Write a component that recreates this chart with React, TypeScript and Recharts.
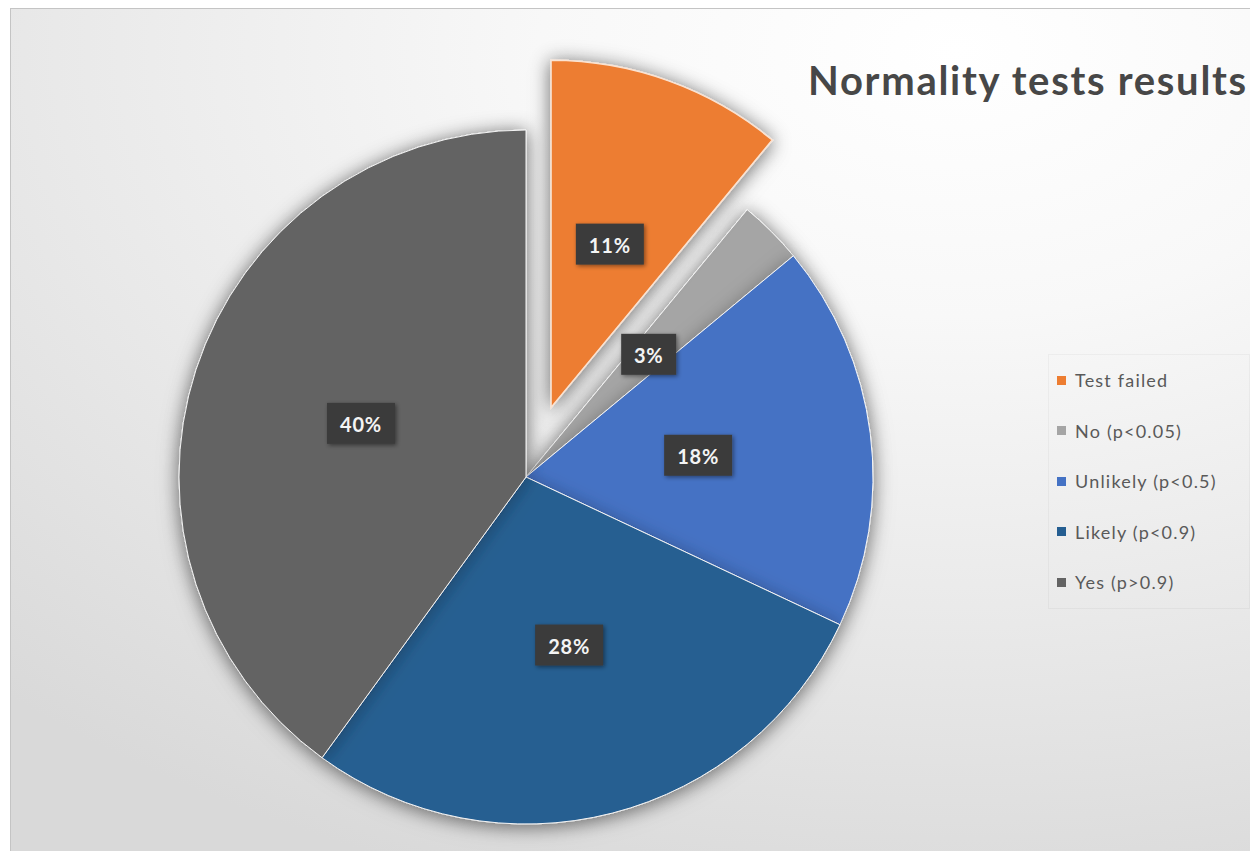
import { PieChart, Pie, Cell, Legend } from "recharts";

const CATEGORIES = ["Test failed", "No (p<0.05)", "Unlikely (p<0.5)", "Likely (p<0.9)", "Yes (p>0.9)"];
const SHARES = [11, 3, 18, 28, 40];
const COLORS = ["#ED7D31", "#A5A5A5", "#4472C4", "#255E91", "#636363"];
const EXPLODED = 0;

const data = CATEGORIES.map((name, i) => ({ name, value: SHARES[i] }));

const RADIAN = Math.PI / 180;
const CX = 526;
const CY = 477;
const RADIUS = 347;
const EXPLODE_DIST = 74;

// pull the exploded slice out along its own mid angle
const total = SHARES.reduce((s, v) => s + v, 0);
const before = SHARES.slice(0, EXPLODED).reduce((s, v) => s + v, 0);
const explodedMid = 90 - ((before + SHARES[EXPLODED] / 2) / total) * 360;
const EX_CX = CX + EXPLODE_DIST * Math.cos(explodedMid * RADIAN);
const EX_CY = CY - EXPLODE_DIST * Math.sin(explodedMid * RADIAN);

const FONT = "Lato, 'Open Sans', sans-serif";

const makeLabel = (exploded: boolean) => (props: any) => {
  const { cx, cy, midAngle, outerRadius, index } = props;
  if ((index === EXPLODED) !== exploded) return <g />;
  const r = outerRadius * 0.5;
  const x = cx + r * Math.cos(-midAngle * RADIAN);
  const y = cy + r * Math.sin(-midAngle * RADIAN);
  const text = `${SHARES[index]}%`;
  const w = 28 + 13 * String(SHARES[index]).length + 14;
  const h = 41;
  return (
    <g>
      <rect x={x - w / 2} y={y - h / 2} width={w} height={h} fill="#3b3b3b" filter="url(#labelShadow)" />
      <text
        x={x}
        y={y + 1}
        textAnchor="middle"
        dominantBaseline="central"
        fill="#f4f4f4"
        fontFamily={FONT}
        fontWeight={700}
        fontSize={20}
        letterSpacing={0.8}
      >
        {text}
      </text>
    </g>
  );
};

const renderLegend = () => (
  <div style={{ fontFamily: FONT, fontSize: 18, letterSpacing: 1.2, color: "#595959" }}>
    {CATEGORIES.map((name, i) => (
      <div key={name} style={{ display: "flex", alignItems: "center", height: 50.5 }}>
        <span style={{ width: 9, height: 9, background: COLORS[i], marginRight: 9, display: "inline-block" }} />
        <span>{name}</span>
      </div>
    ))}
  </div>
);

export default function App() {
  return (
    <div style={{ position: "absolute", left: 0, top: 0, width: 1250, height: 852, overflow: "hidden", background: "#fff" }}>
      <style>{`.pie-shadow { filter: url(#pieShadow); }`}</style>
      <svg width={0} height={0} style={{ position: "absolute" }}>
        <defs>
          <filter id="pieShadow" x="-20%" y="-20%" width="140%" height="140%">
            <feDropShadow dx={0} dy={2} stdDeviation={9} floodColor="#000" floodOpacity={0.3} />
          </filter>
          <filter id="labelShadow" x="-30%" y="-30%" width="160%" height="160%">
            <feDropShadow dx={1.5} dy={1.5} stdDeviation={2} floodColor="#000" floodOpacity={0.45} />
          </filter>
        </defs>
      </svg>
      <div
        style={{
          position: "absolute",
          left: 10,
          top: 8,
          width: 1260,
          height: 842,
          borderLeft: "1px solid #c4c4c4",
          borderTop: "1px solid #c4c4c4",
          background:
            "radial-gradient(ellipse 110% 105% at 75% 5%, #ffffff 0%, #f8f8f8 30%, #e9e9e9 65%, #d9d9d9 100%)",
        }}
      />
      <div
        style={{
          position: "absolute",
          left: 808,
          top: 56,
          fontFamily: FONT,
          fontWeight: 700,
          fontSize: 40,
          letterSpacing: 1.7,
          lineHeight: "48px",
          color: "#474747",
          whiteSpace: "nowrap",
        }}
      >
        Normality tests results
      </div>
      <div style={{ position: "absolute", left: 0, top: 0 }}>
        <PieChart width={1250} height={852} margin={{ top: 0, right: 0, bottom: 0, left: 0 }}>
          <Pie
            data={data}
            dataKey="value"
            nameKey="name"
            cx={CX}
            cy={CY}
            outerRadius={RADIUS}
            startAngle={90}
            endAngle={-270}
            stroke="#ffffff"
            strokeWidth={1}
            labelLine={false}
            label={makeLabel(false)}
            legendType="none"
            className="pie-shadow"
            isAnimationActive={false}
          >
            {data.map((d, i) => (
              <Cell
                key={d.name}
                fill={i === EXPLODED ? "transparent" : COLORS[i]}
                stroke={i === EXPLODED ? "none" : "#f4f4f4"}
              />
            ))}
          </Pie>
          <Pie
            data={data}
            dataKey="value"
            nameKey="name"
            cx={EX_CX}
            cy={EX_CY}
            outerRadius={RADIUS}
            startAngle={90}
            endAngle={-270}
            labelLine={false}
            label={makeLabel(true)}
            className="pie-shadow"
            isAnimationActive={false}
          >
            {data.map((d, i) => (
              <Cell
                key={d.name}
                fill={i === EXPLODED ? COLORS[i] : "transparent"}
                stroke={i === EXPLODED ? "#fbe3d2" : "none"}
                strokeWidth={1.5}
              />
            ))}
          </Pie>
          <Legend
            layout="vertical"
            align="right"
            verticalAlign="middle"
            content={renderLegend}
            wrapperStyle={{
              left: 1048,
              top: 354,
              right: "auto",
              width: 192,
              padding: "0 0 0 8px",
              border: "1px solid rgba(0,0,0,0.035)",
            }}
          />
        </PieChart>
      </div>
    </div>
  );
}
